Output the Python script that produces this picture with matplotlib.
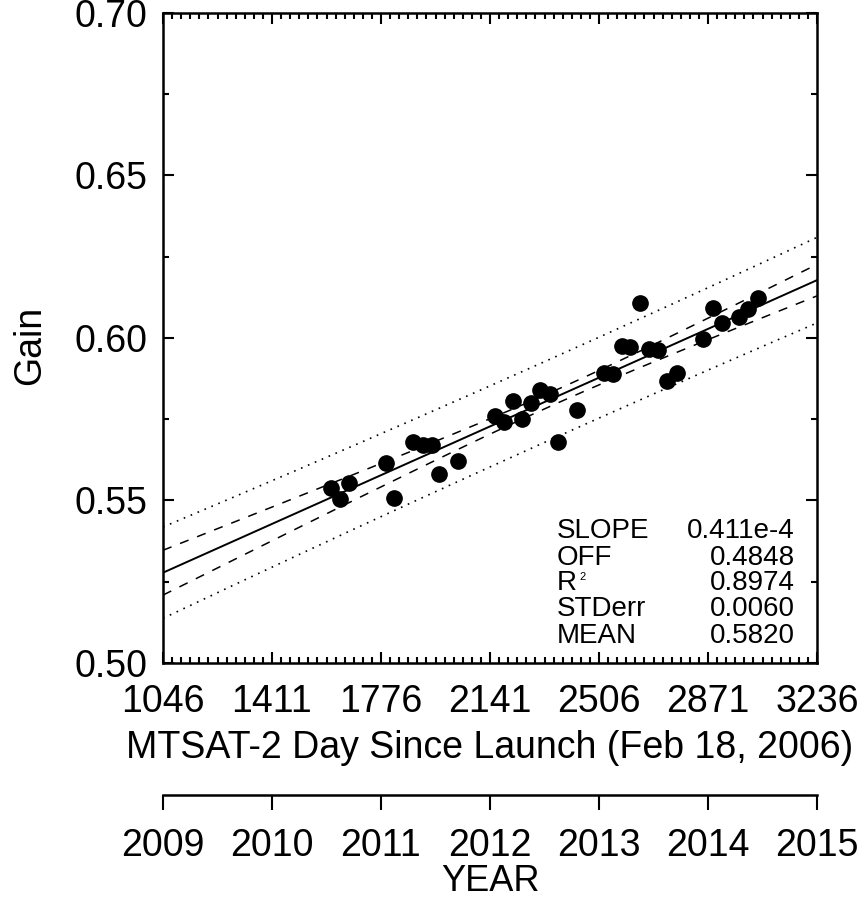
import numpy as np
import matplotlib
matplotlib.use("Agg")
import matplotlib.pyplot as plt
from matplotlib.ticker import FixedLocator

plt.rcParams['font.family'] = ['Liberation Sans', 'DejaVu Sans']

# ---- data ----
days = [1609, 1639, 1669, 1793, 1820, 1883, 1917, 1947, 1970, 2034,
        2158, 2188, 2218, 2248, 2278, 2308, 2342, 2369, 2432, 2523,
        2553, 2583, 2610, 2643, 2673, 2704, 2734, 2767, 2854, 2888,
        2918, 2975, 3005, 3038]
gain = [0.5538, 0.5505, 0.5554, 0.5615, 0.5508, 0.5680, 0.5671, 0.5672, 0.5582, 0.5622,
        0.5760, 0.5742, 0.5806, 0.5751, 0.5800, 0.5840, 0.5828, 0.5680, 0.5778, 0.5892,
        0.5889, 0.5975, 0.5972, 0.6108, 0.5966, 0.5963, 0.5868, 0.5892, 0.5997, 0.6092,
        0.6046, 0.6065, 0.6089, 0.6123]

xticks_days = [1046, 1411, 1776, 2141, 2506, 2871, 3236]
yticks = [0.50, 0.55, 0.60, 0.65, 0.70]
years = [2009, 2010, 2011, 2012, 2013, 2014, 2015]

SLOPE = 0.411e-4
OFF = 0.4848
R2 = 0.8974
STDERR = 0.0060
MEAN = 0.5820

stat_names = ['SLOPE', 'OFF', 'R', 'STDerr', 'MEAN']
stat_values = ['0.411e-4', '0.4848', '0.8974', '0.0060', '0.5820']

# ---- figure ----
W, H = 867, 901
fig = plt.figure(figsize=(W / 100, H / 100), dpi=100)
L, R, T, B = 163, 817, 13, 663
ax = fig.add_axes([L / W, 1 - B / H, (R - L) / W, (B - T) / H])

xmin, xmax = xticks_days[0], xticks_days[-1]
ax.set_xlim(xmin, xmax)
ax.set_ylim(0.50, 0.70)

# regression line and bands
xx = np.linspace(xmin, xmax, 200)
yy = OFF + SLOPE * xx
d = np.array(days, dtype=float)
n = len(d)
xm = d.mean()
sxx = ((d - xm) ** 2).sum()
tval = 2.04
conf = tval * STDERR * np.sqrt(1.0 / n + (xx - xm) ** 2 / sxx)
pred = tval * STDERR * np.sqrt(1.0 + 1.0 / n + (xx - xm) ** 2 / sxx)

ax.plot(xx, yy, color='black', lw=1.4, zorder=3)
ax.plot(xx, yy + conf, color='black', lw=1.1, ls=(0, (6, 6)), zorder=3)
ax.plot(xx, yy - conf, color='black', lw=1.1, ls=(0, (6, 6)), zorder=3)
ax.plot(xx, yy + pred, color='black', lw=1.2, ls=(0, (1, 3.5)), zorder=3)
ax.plot(xx, yy - pred, color='black', lw=1.2, ls=(0, (1, 3.5)), zorder=3)

ax.plot(days, gain, 'o', color='black', ms=11, zorder=4)

# ticks
ax.xaxis.set_major_locator(FixedLocator(xticks_days))
ax.xaxis.set_minor_locator(FixedLocator(np.arange(xmin, xmax + 1, 365 / 12.0)))
ax.set_xticklabels([str(v) for v in xticks_days])
ax.yaxis.set_major_locator(FixedLocator(yticks))
ax.yaxis.set_minor_locator(FixedLocator(np.arange(0.50, 0.7001, 0.025)))
ax.set_yticklabels(['%.2f' % v for v in yticks])

ax.tick_params(which='both', direction='in', top=True, right=True, width=1.5, color='black')
ax.tick_params(which='major', length=8)
ax.tick_params(which='minor', length=4)
ax.tick_params(axis='x', which='major', labelsize=27, pad=15)
ax.tick_params(axis='y', which='major', labelsize=27, pad=11)
for s in ax.spines.values():
    s.set_linewidth(1.8)

ax.set_xlabel('MTSAT-2 Day Since Launch (Feb 18, 2006)', fontsize=27, labelpad=7)
ax.set_ylabel('Gain', fontsize=27, va='center')
ax.yaxis.set_label_coords((30 - L) / (R - L), (B - 345) / (B - T))

# stats text
base_y = [538, 565, 590, 616.5, 643]
for name, val, by in zip(stat_names, stat_values, base_y):
    fy = 1 - by / H
    fig.text(557 / W, fy, name, fontsize=20, ha='left', va='baseline')
    fig.text(795 / W, fy, val, fontsize=20, ha='right', va='baseline')
# small superscript 2 of R²
fig.text(579 / W, 1 - 572 / H, '2', fontsize=8, ha='left', va='top')

# secondary year axis
ax2 = fig.add_axes([L / W, 1 - 795 / H, (R - L) / W, 0.0001])
ax2.set_xlim(years[0], years[-1])
for k in ['top', 'left', 'right']:
    ax2.spines[k].set_visible(False)
ax2.spines['bottom'].set_linewidth(1.8)
ax2.set_yticks([])
ax2.xaxis.set_major_locator(FixedLocator(years))
ax2.set_xticklabels([str(y) for y in years])
ax2.tick_params(axis='x', direction='out', length=11, width=1.5, labelsize=27, pad=13)
ax2.set_xlabel('YEAR', fontsize=26, labelpad=0)
ax2.patch.set_visible(False)

fig.savefig('out.png', dpi=100)
